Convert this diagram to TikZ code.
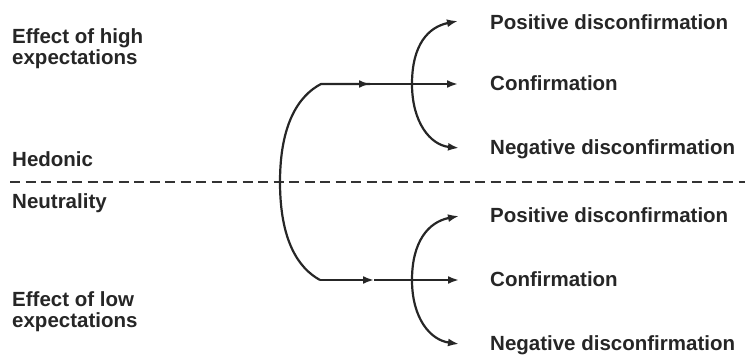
\documentclass[tikz,border=0pt]{standalone}
\usepackage{fontspec}
\setmainfont{Liberation Sans}
\usetikzlibrary{arrows.meta}
\begin{document}
\begin{tikzpicture}[x=1pt,y=-1pt,
  lbl/.style={font=\bfseries\fontsize{20.5}{21}\selectfont, inner sep=0pt, anchor=base west, text=black!85},
  conn/.style={line width=2.2pt, black!85},
  tip/.style={-{Latex[length=11pt,width=8pt]}},
  divider/.style={line width=2.4pt, black!80, dash pattern=on 10pt off 5.5pt}
]
\useasboundingbox (0,0) rectangle (745,358);
% left labels
\node[lbl] (hi1) at (12,44) {Effect of high};
\node[lbl] (hi2) at (12,65) {expectations};
\node[lbl] (hed) at (12,167) {Hedonic};
\node[lbl] (neu) at (12,209) {Neutrality};
\node[lbl] (lo1) at (12,307) {Effect of low};
\node[lbl] (lo2) at (12,328) {expectations};
% right labels
\node[lbl] (upd) at (490,30) {Positive disconfirmation};
\node[lbl] (uc)  at (490,91) {Confirmation};
\node[lbl] (und) at (490,155) {Negative disconfirmation};
\node[lbl] (lpd) at (490,223) {Positive disconfirmation};
\node[lbl] (lc)  at (490,287) {Confirmation};
\node[lbl] (lnd) at (490,350) {Negative disconfirmation};
% dashed divider
\coordinate (dL) at (10,182);
\coordinate (dR) at (745,182);
\draw[divider] (dL) -- (dR);
% coordinates
\coordinate (j) at (280,182);
\coordinate (uk) at (321,84);
\coordinate (um) at (370,84);
\coordinate (ux) at (412,84);
\coordinate (ue) at (458,84);
\coordinate (uat) at (458,21);
\coordinate (uab) at (459,148);
\coordinate (lk) at (320,280);
\coordinate (lm) at (374,280);
\coordinate (lx) at (412,280);
\coordinate (le) at (459,280);
\coordinate (lat) at (459,216);
\coordinate (lab) at (459,344);
% upper branch
\draw[conn] (j) .. controls (280,125) and (298,96) .. (uk) -- (um);
\draw[conn,tip] (uk) -- (um);
\draw[conn,tip] (um) -- (ue);
\draw[conn,tip] (ux) .. controls (412,45) and (428,27) .. (uat);
\draw[conn,tip] (ux) .. controls (412,122) and (430,145) .. (uab);
% lower branch
\draw[conn] (j) .. controls (280,240) and (298,268) .. (lk);
\draw[conn,tip] (lk) -- (lm);
\draw[conn,tip] (lm) -- (le);
\draw[conn,tip] (lx) .. controls (412,242) and (428,222) .. (lat);
\draw[conn,tip] (lx) .. controls (412,318) and (430,340) .. (lab);
\end{tikzpicture}
\end{document}
